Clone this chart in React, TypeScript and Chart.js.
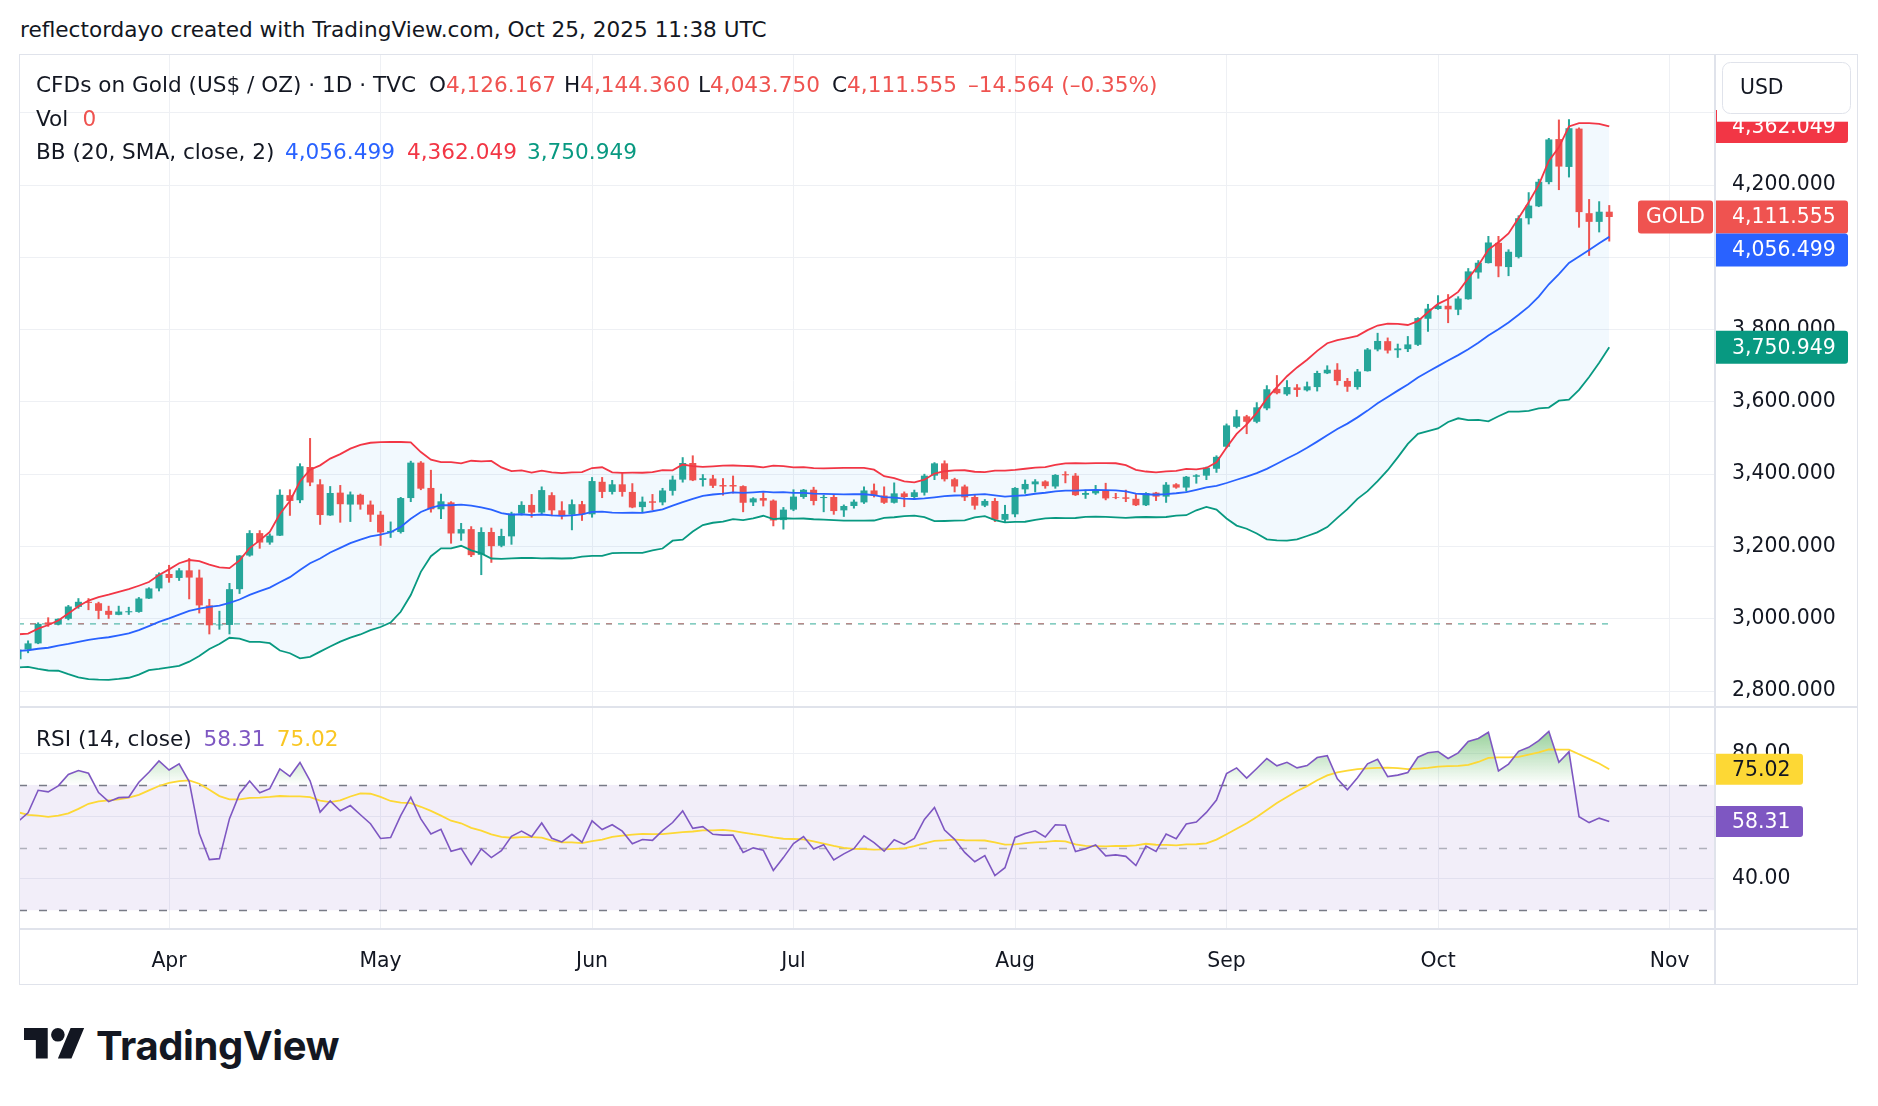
import React, { useEffect, useRef } from "react";
import { Chart, registerables } from "chart.js";

Chart.register(...registerables);

const FONT = '"DejaVu Sans", sans-serif';
const INK = "#131722";
const UP = "#26a69a";
const DOWN = "#ef5350";
const GRID = "#eef0f4";
const FRAME = "#e0e3eb";

// Daily closes before the first visible session, used to seed BB(20) and RSI(14)
const seedCloses = [
  2658, 2640, 2636, 2648, 2662, 2670, 2690, 2663, 2677, 2696, 2715, 2702, 2745, 2755, 2755, 2771,
  2740, 2763, 2760, 2794, 2798, 2815, 2842, 2866, 2856, 2861, 2908, 2898, 2904, 2928, 2883, 2935,
  2933, 2939, 2936, 2951, 2915, 2916, 2875, 2858, 2893, 2918, 2920, 2910, 2910, 2889,
];

// Visible daily sessions, Mar 11 – Oct 24
const opens = [
  2888, 2915, 2932, 2990, 2984, 3000, 3033, 3047, 3043, 3022, 3011, 3018, 3019, 3056, 3084,
  3124, 3113, 3134, 3114, 3037, 2982, 2983, 3082, 3175, 3237, 3211, 3230, 3342, 3328, 3420, 3372, 3286, 3349, 3316, 3343, 3316,
  3288, 3239, 3240, 3334, 3432, 3362, 3303, 3322, 3236, 3248, 3177, 3240, 3202, 3228, 3291, 3315, 3294, 3342, 3300, 3288, 3317,
  3289, 3379, 3351, 3372, 3351, 3309, 3325, 3322, 3354, 3385, 3431, 3384, 3388, 3370, 3370, 3367, 3322, 3334, 3327, 3273,
  3302, 3337, 3357, 3334, 3337, 3300, 3312, 3322, 3355, 3341, 3321, 3347, 3337, 3349, 3396, 3430, 3386, 3366, 3337, 3313, 3326, 3274,
  3289, 3358, 3372, 3380, 3366, 3400, 3396, 3343, 3347, 3356, 3337, 3336, 3332, 3314, 3349, 3338, 3372, 3363, 3393, 3396, 3415,
  3476, 3531, 3560, 3545, 3582, 3636, 3621, 3640, 3632, 3641, 3679, 3689, 3658, 3641, 3685, 3745, 3768, 3743, 3746, 3758, 3830,
  3857, 3866, 3855, 3884, 3958, 3984, 4040, 3973, 4001, 4108, 4141, 4208, 4327, 4250, 4356, 4122, 4098, 4126.167,
];
const highs = [
  2920, 2940, 2990, 3004, 3001, 3038, 3057, 3057, 3047, 3036, 3036, 3033, 3060, 3087, 3128,
  3149, 3140, 3168, 3136, 3055, 3022, 3099, 3176, 3245, 3245, 3236, 3358, 3358, 3430, 3500, 3386, 3367, 3370, 3352, 3346, 3327,
  3298, 3269, 3337, 3437, 3436, 3412, 3346, 3325, 3265, 3256, 3253, 3252, 3249, 3296, 3325, 3345, 3366, 3350, 3325, 3330, 3326,
  3392, 3392, 3384, 3404, 3375, 3338, 3345, 3362, 3396, 3447, 3452, 3400, 3398, 3389, 3396, 3369, 3336, 3350, 3330, 3309,
  3358, 3359, 3365, 3343, 3345, 3316, 3330, 3366, 3374, 3366, 3377, 3352, 3357, 3401, 3433, 3438, 3390, 3371, 3343, 3331, 3334, 3315,
  3364, 3385, 3386, 3383, 3400, 3408, 3403, 3357, 3370, 3376, 3348, 3357, 3345, 3350, 3351, 3378, 3375, 3395, 3400, 3421, 3452,
  3540, 3578, 3564, 3599, 3646, 3674, 3660, 3649, 3656, 3686, 3701, 3707, 3666, 3691, 3749, 3791, 3778, 3761, 3782, 3834, 3871,
  3895, 3898, 3892, 3970, 3992, 4059, 4059, 4022, 4116, 4180, 4217, 4330, 4381, 4382, 4359, 4161, 4155, 4144.36,
];
const lows = [
  2880, 2905, 2930, 2978, 2982, 2996, 3028, 3024, 2999, 3000, 3010, 3011, 3017, 3055, 3076,
  3100, 3105, 3054, 3015, 2957, 2970, 2957, 3069, 3172, 3194, 3205, 3229, 3285, 3320, 3367, 3260, 3285, 3266, 3268, 3302, 3268,
  3202, 3224, 3236, 3323, 3356, 3294, 3276, 3208, 3216, 3171, 3121, 3155, 3198, 3205, 3286, 3280, 3287, 3284, 3275, 3245, 3271,
  3280, 3334, 3344, 3338, 3306, 3294, 3300, 3314, 3341, 3377, 3381, 3366, 3362, 3341, 3347, 3295, 3312, 3311, 3256, 3247,
  3298, 3332, 3314, 3295, 3288, 3282, 3305, 3318, 3336, 3318, 3319, 3309, 3329, 3341, 3384, 3380, 3350, 3326, 3302, 3309, 3268, 3268,
  3281, 3346, 3350, 3360, 3360, 3375, 3340, 3332, 3343, 3328, 3331, 3323, 3312, 3312, 3326, 3321, 3360, 3352, 3374, 3384, 3404,
  3472, 3527, 3511, 3541, 3577, 3621, 3617, 3614, 3629, 3629, 3677, 3646, 3628, 3634, 3684, 3740, 3734, 3722, 3738, 3755, 3794,
  3855, 3818, 3840, 3883, 3941, 3983, 3945, 3948, 3997, 4091, 4139, 4202, 4186, 4221, 4082, 4004, 4069, 4043.75,
];
const closes = [
  2915, 2932, 2986, 2984, 3000, 3034, 3047, 3044, 3022, 3011, 3020, 3021, 3056, 3084, 3123,
  3113, 3134, 3114, 3037, 2982, 2984, 3082, 3175, 3237, 3211, 3230, 3343, 3326, 3422, 3377, 3287, 3348, 3317, 3344, 3316, 3288,
  3239, 3243, 3334, 3432, 3360, 3303, 3325, 3236, 3248, 3176, 3240, 3201, 3229, 3291, 3315, 3294, 3356, 3300, 3286, 3317, 3289,
  3381, 3351, 3372, 3351, 3308, 3324, 3321, 3355, 3385, 3431, 3383, 3389, 3368, 3366, 3366, 3321, 3333, 3327, 3272, 3302,
  3338, 3357, 3326, 3337, 3298, 3312, 3324, 3355, 3340, 3321, 3347, 3337, 3350, 3396, 3430, 3386, 3366, 3336, 3313, 3326, 3274, 3290,
  3362, 3373, 3380, 3367, 3398, 3397, 3342, 3348, 3356, 3333, 3335, 3332, 3314, 3348, 3338, 3371, 3363, 3393, 3397, 3418, 3448,
  3535, 3560, 3545, 3585, 3635, 3624, 3641, 3633, 3643, 3680, 3689, 3658, 3642, 3684, 3745, 3768.6, 3742, 3748, 3759, 3831.916, 3858,
  3865.8, 3856, 3886, 3961, 3985, 4041, 3975, 4015.31, 4108.1, 4143, 4209, 4326, 4250.99, 4357.094, 4125, 4098.1, 4126.119, 4111.555,
];

// First session of each month (bar index) and its label
const monthTickIndex = [15, 36, 57, 77, 99, 120, 141, 164];
const monthTickLabel = ["Apr", "May", "Jun", "Jul", "Aug", "Sep", "Oct", "Nov"];

const priceTicks = [2800, 3000, 3200, 3400, 3600, 3800, 4000, 4200, 4400];
const rsiTicks = [40, 60, 80];
const rsiBands = [70, 50, 30];
const markerLevel = 2986;

const bbLength = 20;
const bbMult = 2;
const rsiLength = 14;
const rsiMaLength = 14;

// Visible window
const xMin = 0.1;
const xMax = 168.5;
const priceMin = 2756;
const priceMax = 4562.4;
const rsiMin = 24;
const rsiMax = 94.9;

// ---- indicators ----
const series = [...seedCloses, ...closes];
const first = seedCloses.length;

const bbBasis: number[] = [];
const bbUpper: number[] = [];
const bbLower: number[] = [];
for (let k = 0; k < closes.length; k++) {
  const i = first + k;
  const win = series.slice(i - bbLength + 1, i + 1);
  const mean = win.reduce((a, b) => a + b, 0) / bbLength;
  const sd = Math.sqrt(win.reduce((a, b) => a + (b - mean) ** 2, 0) / bbLength);
  bbBasis.push(mean);
  bbUpper.push(mean + bbMult * sd);
  bbLower.push(mean - bbMult * sd);
}

const rsiAll: number[] = [];
{
  let avgGain = 0;
  let avgLoss = 0;
  for (let i = 1; i < series.length; i++) {
    const ch = series[i] - series[i - 1];
    const g = Math.max(ch, 0);
    const l = Math.max(-ch, 0);
    if (i <= rsiLength) {
      avgGain += g / rsiLength;
      avgLoss += l / rsiLength;
    } else {
      avgGain = (avgGain * (rsiLength - 1) + g) / rsiLength;
      avgLoss = (avgLoss * (rsiLength - 1) + l) / rsiLength;
    }
    if (i >= rsiLength) rsiAll[i] = avgLoss === 0 ? 100 : 100 - 100 / (1 + avgGain / avgLoss);
  }
}
const rsi = closes.map((_, k) => rsiAll[first + k]);
const rsiMa = closes.map((_, k) => {
  const i = first + k;
  let s = 0;
  for (let j = i - rsiMaLength + 1; j <= i; j++) s += rsiAll[j];
  return s / rsiMaLength;
});

const fmt3 = (v: number) =>
  v.toLocaleString("en-US", { minimumFractionDigits: 3, maximumFractionDigits: 3 });
const last = closes.length - 1;
const change = closes[last] - closes[last - 1];
const changePct = (change / closes[last - 1]) * 100;
const sign = change < 0 ? "\u2013" : "+";
const changeText = `${sign}${fmt3(Math.abs(change))} (${sign}${Math.abs(changePct).toFixed(2)}%)`;

const xs = closes.map((_, i) => i);
const candleColors = closes.map((c, i) => (c >= opens[i] ? UP : DOWN));

function tag(
  ctx: CanvasRenderingContext2D,
  x: number,
  yc: number,
  w: number,
  h: number,
  bg: string,
  fg: string,
  text: string,
  textX: number,
  radii: number[],
  align: CanvasTextAlign = "left"
) {
  ctx.fillStyle = bg;
  ctx.beginPath();
  (ctx as any).roundRect(x, yc - h / 2, w, h, radii);
  ctx.fill();
  ctx.fillStyle = fg;
  ctx.font = `20.4px ${FONT}`;
  ctx.textAlign = align;
  ctx.textBaseline = "middle";
  ctx.fillText(text, textX, yc + 1);
}

const priceTagsPlugin = {
  id: "priceTags",
  afterDraw(chart: any) {
    const { ctx, chartArea, scales, width } = chart;
    const y = scales.y;
    const right = chartArea.right;
    const h = 33;
    const tags = [
      { v: bbUpper[last], bg: "#f23645" },
      { v: closes[last], bg: DOWN, main: true },
      { v: bbBasis[last], bg: "#2962ff" },
      { v: bbLower[last], bg: "#089981" },
    ]
      .map((t) => ({ ...t, py: y.getPixelForValue(t.v) }))
      .sort((a, b) => a.py - b.py);
    for (let k = 1; k < tags.length; k++) {
      if (tags[k].py < tags[k - 1].py + h) tags[k].py = tags[k - 1].py + h;
    }
    ctx.save();
    for (const t of tags) {
      tag(ctx, right + 1, t.py, 132, h, t.bg, "#ffffff", fmt3(t.v), right + 17, [0, 3, 3, 0]);
      if ((t as any).main) {
        tag(ctx, right - 77, t.py, 75, h, DOWN, "#ffffff", "GOLD", right - 39.5, [3, 3, 3, 3], "center");
      }
    }
    // currency button area
    ctx.fillStyle = "#ffffff";
    ctx.fillRect(right + 2, 0, width - right - 2, 67.7);
    ctx.strokeStyle = FRAME;
    ctx.lineWidth = 1;
    ctx.beginPath();
    (ctx as any).roundRect(right + 7.5, 8.5, 128, 51, 8);
    ctx.stroke();
    ctx.fillStyle = INK;
    ctx.font = `20.4px ${FONT}`;
    ctx.textAlign = "left";
    ctx.textBaseline = "middle";
    ctx.fillText("USD", right + 25, 34.5);
    ctx.restore();
  },
};

const rsiDecorPlugin = {
  id: "rsiDecor",
  beforeDatasetsDraw(chart: any) {
    const { ctx, chartArea, scales } = chart;
    const y = scales.y;
    const [upper, mid, lower] = rsiBands.map((v) => y.getPixelForValue(v));
    ctx.save();
    ctx.fillStyle = "rgba(126,87,194,0.1)";
    ctx.fillRect(chartArea.left, upper, chartArea.width, lower - upper);

    // overbought gradient between the RSI line and the upper band
    const pts = chart.getDatasetMeta(0).data;
    const grad = ctx.createLinearGradient(0, y.getPixelForValue(100), 0, upper);
    grad.addColorStop(0, "rgba(76,175,80,1)");
    grad.addColorStop(1, "rgba(76,175,80,0)");
    ctx.beginPath();
    ctx.rect(chartArea.left, chartArea.top, chartArea.width, upper - chartArea.top);
    ctx.clip();
    ctx.beginPath();
    ctx.moveTo(pts[0].x, upper);
    for (const p of pts) ctx.lineTo(p.x, p.y);
    ctx.lineTo(pts[pts.length - 1].x, upper);
    ctx.closePath();
    ctx.fillStyle = grad;
    ctx.fill();
    ctx.restore();

    ctx.save();
    ctx.lineWidth = 1.5;
    ctx.setLineDash([8, 12]);
    [
      [upper, "#787b86"],
      [mid, "rgba(120,123,134,0.55)"],
      [lower, "#787b86"],
    ].forEach(([py, col]) => {
      ctx.strokeStyle = col as string;
      ctx.beginPath();
      ctx.moveTo(chartArea.left, Math.round(py as number) + 0.5);
      ctx.lineTo(chartArea.right, Math.round(py as number) + 0.5);
      ctx.stroke();
    });
    ctx.restore();
  },
  afterDraw(chart: any) {
    const { ctx, chartArea, scales } = chart;
    const y = scales.y;
    const right = chartArea.right;
    ctx.save();
    const maY = y.getPixelForValue(rsiMa[last]);
    const rsiY = y.getPixelForValue(rsi[last]);
    tag(ctx, right + 1, maY, 87, 31, "#fdd835", INK, rsiMa[last].toFixed(2), right + 17, [0, 3, 3, 0]);
    tag(ctx, right + 1, rsiY, 87, 31, "#7e57c2", "#ffffff", rsi[last].toFixed(2), right + 17, [0, 3, 3, 0]);
    ctx.restore();
  },
};

export default function App() {
  const mainRef = useRef<HTMLCanvasElement>(null);
  const rsiRef = useRef<HTMLCanvasElement>(null);

  useEffect(() => {
    const tickFont = { family: FONT, size: 20.4 };
    const common: any = {
      responsive: false,
      animation: false,
      events: [],
      layout: { padding: 0, autoPadding: false },
      plugins: {
        legend: { display: false },
        tooltip: { enabled: false },
        filler: { drawTime: "beforeDatasetsDraw" },
      },
    };

    const main = new Chart(mainRef.current as HTMLCanvasElement, {
      type: "bar",
      data: {
        datasets: [
          {
            type: "line",
            label: "BB upper",
            data: xs.map((i) => ({ x: i, y: bbUpper[i] })),
            borderColor: "#f23645",
            borderWidth: 1.8,
            pointRadius: 0,
            fill: "+2",
            backgroundColor: "rgba(33,150,243,0.06)",
            order: 1,
          },
          {
            type: "line",
            label: "BB basis",
            data: xs.map((i) => ({ x: i, y: bbBasis[i] })),
            borderColor: "#2962ff",
            borderWidth: 1.8,
            pointRadius: 0,
            fill: false,
            order: 1,
          },
          {
            type: "line",
            label: "BB lower",
            data: xs.map((i) => ({ x: i, y: bbLower[i] })),
            borderColor: "#089981",
            borderWidth: 1.8,
            pointRadius: 0,
            fill: false,
            order: 1,
          },
          {
            type: "line",
            label: "marker a",
            data: [
              { x: xs[0], y: markerLevel },
              { x: xs[last], y: markerLevel },
            ],
            borderColor: "rgba(8,153,129,0.55)",
            borderWidth: 1.5,
            borderDash: [6, 6],
            pointRadius: 0,
            fill: false,
            order: 5,
          },
          {
            type: "line",
            label: "marker b",
            data: [
              { x: xs[0], y: markerLevel },
              { x: xs[last], y: markerLevel },
            ],
            borderColor: "rgba(242,54,69,0.45)",
            borderWidth: 1.5,
            borderDash: [6, 18],
            borderDashOffset: 12,
            pointRadius: 0,
            fill: false,
            order: 4,
          },
          {
            type: "bar",
            label: "wicks",
            data: xs.map((i) => ({ x: i, y: [lows[i], highs[i]] })) as any,
            backgroundColor: candleColors,
            borderWidth: 0,
            barPercentage: 0.2,
            categoryPercentage: 1,
            grouped: false,
            order: 3,
          },
          {
            type: "bar",
            label: "bodies",
            data: xs.map((i) => ({ x: i, y: [opens[i], closes[i]] })) as any,
            backgroundColor: candleColors,
            borderWidth: 0,
            barPercentage: 0.7,
            categoryPercentage: 1,
            grouped: false,
            order: 2,
          },
        ] as any,
      },
      options: {
        ...common,
        scales: {
          x: {
            type: "linear",
            min: xMin,
            max: xMax,
            offset: false,
            afterBuildTicks: (s: any) => {
              s.ticks = monthTickIndex.map((v) => ({ value: v }));
            },
            afterFit: (s: any) => {
              s.height = 0;
              s.paddingLeft = 0;
              s.paddingRight = 0;
            },
            grid: { color: GRID, drawTicks: false, offset: false },
            border: { display: false },
            ticks: { display: false },
          },
          y: {
            type: "linear",
            position: "right",
            min: priceMin,
            max: priceMax,
            afterBuildTicks: (s: any) => {
              s.ticks = priceTicks.map((v) => ({ value: v }));
            },
            afterFit: (s: any) => {
              s.width = 143;
              s.paddingTop = 0;
              s.paddingBottom = 0;
            },
            grid: { color: GRID, drawTicks: false },
            border: { display: false },
            ticks: {
              padding: 17,
              crossAlign: "near",
              color: INK,
              font: tickFont,
              callback: (v: any) => fmt3(Number(v)),
            },
          },
        },
      },
      plugins: [priceTagsPlugin],
    });

    const rsiChart = new Chart(rsiRef.current as HTMLCanvasElement, {
      type: "line",
      data: {
        datasets: [
          {
            label: "RSI",
            data: xs.map((i) => ({ x: i, y: rsi[i] })),
            borderColor: "#7e57c2",
            borderWidth: 1.6,
            pointRadius: 0,
            fill: false,
            order: 1,
          },
          {
            label: "RSI MA",
            data: xs.map((i) => ({ x: i, y: rsiMa[i] })),
            borderColor: "#fdd835",
            borderWidth: 1.8,
            pointRadius: 0,
            fill: false,
            order: 2,
          },
        ],
      },
      options: {
        ...common,
        scales: {
          x: {
            type: "linear",
            min: xMin,
            max: xMax,
            offset: false,
            afterBuildTicks: (s: any) => {
              s.ticks = monthTickIndex.map((v) => ({ value: v }));
            },
            afterFit: (s: any) => {
              s.height = 56;
              s.paddingLeft = 0;
              s.paddingRight = 0;
            },
            grid: { color: GRID, drawTicks: false, offset: false },
            border: { display: false },
            ticks: {
              padding: 20,
              autoSkip: false,
              maxRotation: 0,
              color: INK,
              font: tickFont,
              callback: (v: any) => monthTickLabel[monthTickIndex.indexOf(Number(v))] ?? "",
            },
          },
          y: {
            type: "linear",
            position: "right",
            min: rsiMin,
            max: rsiMax,
            afterBuildTicks: (s: any) => {
              s.ticks = rsiTicks.map((v) => ({ value: v }));
            },
            afterFit: (s: any) => {
              s.width = 143;
              s.paddingTop = 0;
              s.paddingBottom = 0;
            },
            grid: { color: GRID, drawTicks: false },
            border: { display: false },
            ticks: {
              padding: 17,
              crossAlign: "near",
              color: INK,
              font: tickFont,
              callback: (v: any) => Number(v).toFixed(2),
            },
          },
        },
      } as any,
      plugins: [rsiDecorPlugin],
    });

    return () => {
      main.destroy();
      rsiChart.destroy();
    };
  }, []);

  const T = (p: { x: number; y: number; color?: string; size?: number; children: React.ReactNode }) => (
    <div
      style={{
        position: "absolute",
        left: p.x,
        top: p.y - 20,
        height: 40,
        lineHeight: "40px",
        fontSize: p.size ?? 21.6,
        color: p.color ?? INK,
        whiteSpace: "nowrap",
        zIndex: 3,
      }}
    >
      {p.children}
    </div>
  );

  const line = (left: number, top: number, width: number, height: number) => (
    <div
      style={{ position: "absolute", left, top, width, height, background: FRAME, zIndex: 4 }}
    />
  );

  return (
    <div
      style={{
        position: "absolute",
        left: 0,
        top: 0,
        width: 1878,
        height: 1106,
        background: "#ffffff",
        fontFamily: FONT,
        overflow: "hidden",
      }}
    >
      <T x={20} y={30}>reflectordayo created with TradingView.com, Oct 25, 2025 11:38 UTC</T>

      <div style={{ position: "absolute", left: 19, top: 54, width: 1839, height: 653 }}>
        <canvas ref={mainRef} width={1839} height={653} style={{ display: "block", width: 1839, height: 653 }} />
      </div>
      <div style={{ position: "absolute", left: 19, top: 707, width: 1839, height: 278 }}>
        <canvas ref={rsiRef} width={1839} height={278} style={{ display: "block", width: 1839, height: 278 }} />
      </div>

      {/* pane frame */}
      <div
        style={{
          position: "absolute",
          left: 19,
          top: 54,
          width: 1839,
          height: 931,
          border: `1px solid ${FRAME}`,
          boxSizing: "border-box",
          zIndex: 4,
        }}
      />
      {line(1714, 54, 2, 931)}
      {line(19, 706, 1839, 2)}
      {line(19, 928, 1839, 2)}

      {/* legend */}
      <T x={36} y={85}>CFDs on Gold (US$ / OZ) · 1D · TVC</T>
      <T x={429} y={85}>
        O<span style={{ color: DOWN }}>{fmt3(opens[last])}</span>
      </T>
      <T x={564} y={85}>
        H<span style={{ color: DOWN }}>{fmt3(highs[last])}</span>
      </T>
      <T x={698} y={85}>
        L<span style={{ color: DOWN }}>{fmt3(lows[last])}</span>
      </T>
      <T x={832} y={85}>
        C<span style={{ color: DOWN }}>{fmt3(closes[last])}</span>
      </T>
      <T x={968} y={85} color={DOWN}>
        {changeText}
      </T>
      <T x={36} y={118.6}>Vol</T>
      <T x={82.6} y={118.6} color={DOWN}>
        0
      </T>
      <T x={36} y={152}>BB (20, SMA, close, 2)</T>
      <T x={285} y={152} color="#2962ff">
        {fmt3(bbBasis[last])}
      </T>
      <T x={407} y={152} color="#f23645">
        {fmt3(bbUpper[last])}
      </T>
      <T x={527} y={152} color="#089981">
        {fmt3(bbLower[last])}
      </T>

      <T x={36} y={739}>RSI (14, close)</T>
      <T x={203.6} y={739} color="#7e57c2">
        {rsi[last].toFixed(2)}
      </T>
      <T x={276.7} y={739} color="#f9c623">
        {rsiMa[last].toFixed(2)}
      </T>

      {/* TradingView wordmark */}
      <svg
        style={{ position: "absolute", left: 24, top: 1021, zIndex: 3 }}
        width={61}
        height={48}
        viewBox="0 0 36 28"
      >
        <path d="M14 22H7V11H0V4h14v18zM28 22h-8l7.5-18h8L28 22z" fill="#131722" />
        <circle cx="20" cy="8" r="4" fill="#131722" />
      </svg>
      <div
        style={{
          position: "absolute",
          left: 96,
          top: 1021,
          height: 50,
          lineHeight: "50px",
          fontFamily: "Inter, sans-serif",
          fontWeight: 700,
          fontSize: 40,
          letterSpacing: -0.4,
          color: INK,
          zIndex: 3,
        }}
      >
        TradingView
      </div>
    </div>
  );
}
